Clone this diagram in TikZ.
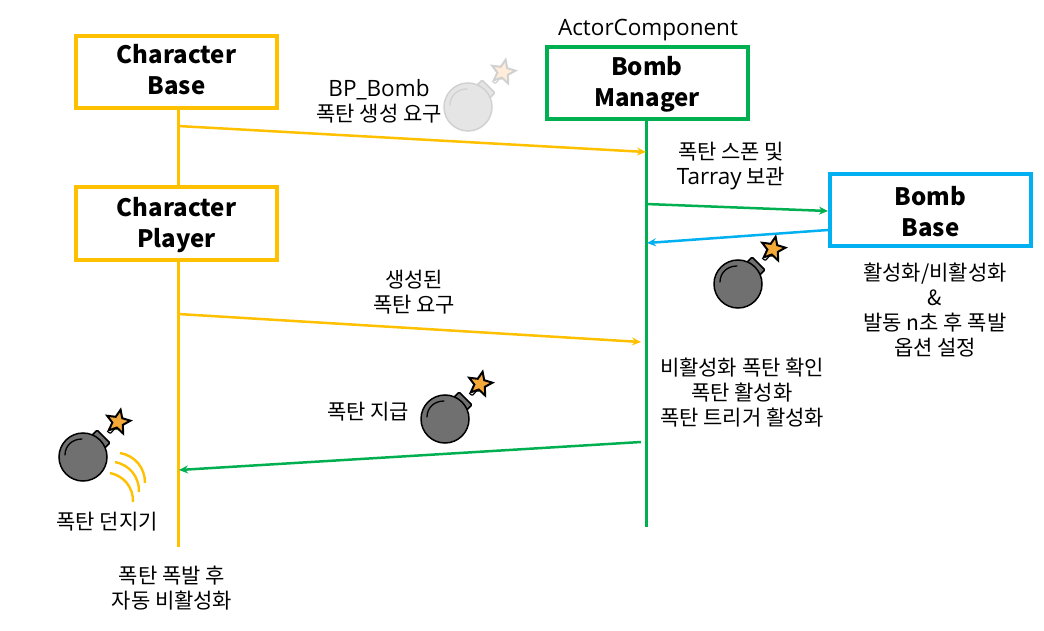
\documentclass[tikz,border=0pt]{standalone}
\usepackage{fontspec}
\setmainfont{Noto Sans CJK KR}
\newfontfamily\latinfont{Open Sans}
\usetikzlibrary{arrows.meta,positioning,shapes.geometric}
\definecolor{baseyellow}{RGB}{255,192,0}
\definecolor{managergreen}{RGB}{0,176,80}
\definecolor{bombblue}{RGB}{0,176,240}
\definecolor{bombgrey}{RGB}{112,112,112}
\definecolor{fuseorange}{RGB}{243,168,55}
\newcommand{\toppad}[1]{\rule{0pt}{#1pt}}
\newcommand{\latinword}[1]{{\fontsize{22.5}{25}\selectfont\latinfont #1}}
\tikzset{
  % class boxes
  box/.style={
    draw,
    line width=4pt,
    fill=white,
    minimum width=201pt,
    minimum height=72pt,
    align=center,
    font=\fontsize{24}{31}\selectfont\bfseries
  },
  % plain captions
  cap text/.style={align=center, inner sep=0pt, font=\fontsize{21}{25}\selectfont},
  % lifelines and messages
  life/.style={line width=3pt},
  msg/.style={-{Stealth[length=9pt,width=8pt]}, line width=2.5pt},
  % bomb drawing, its colours are set by the keys below
  bomb ink/.style={draw=black},
  bomb body/.style={fill=bombgrey},
  bomb flame/.style={fill=fuseorange},
  pale bomb/.style={
    bomb ink/.style={draw=black!18},
    bomb body/.style={fill=black!10},
    bomb flame/.style={fill=orange!15}
  },
  bomb/.pic={
    \draw[bomb ink, bomb body, line width=1.5pt, rotate=-45, rounded corners=1pt] (-9,-29) rectangle (9,-20);
    \draw[bomb ink, line width=1.2pt] (25,-25) .. controls (30,-21) and (29,-30) .. (34,-28);
    \node[star, star points=5, star point ratio=2.2, minimum size=25pt, inner sep=0pt,
      bomb ink, bomb flame, line width=2pt, rotate=-12] (-flame) at (35,-35) {};
    \draw[bomb ink, bomb body, line width=1.5pt] (0,0) circle (24);
    \draw[bomb ink, line width=1.3pt, line cap=round] (-18,-2) .. controls (-18,-11) and (-11,-18) .. (-1,-18);
  }
}

\begin{document}
\begin{tikzpicture}[x=1pt, y=-1pt]
    \useasboundingbox (0,0) rectangle (1044,631);

    % Lifeline ends
    \coordinate (baseEnd) at (178,547);
    \coordinate (managerEnd) at (646,527);

    % Boxes
    \node[box, draw=baseyellow] (charBase) at (176.5,72) {\toppad{20}Character\\Base\vphantom{y}};
    \node[box, draw=managergreen] (bombMgr) at (647,83.5) {\toppad{21}Bomb\\Manager};
    \node[box, draw=bombblue] (bombBase) at (930.5,210) {\toppad{28}Bomb\\Base\vphantom{y}};

    % Lifelines
    \draw[life, baseyellow] (charBase.south -| baseEnd) -- (baseEnd);
    \draw[life, managergreen] (bombMgr.south -| managerEnd) -- (managerEnd);
    \node[box, draw=baseyellow] (charPlayer) at (176.5,223.5) {\toppad{22}Character\\Player};

    % Message ends
    \coordinate (m1a) at (178,126);
    \coordinate (m1b) at (646,152);
    \coordinate (m2a) at (646,204);
    \coordinate (m2b) at (828,211);
    \coordinate (m3a) at (828,230);
    \coordinate (m3b) at (647,243);
    \coordinate (m4a) at (178,314);
    \coordinate (m4b) at (641,342);
    \coordinate (m5a) at (641,442);
    \coordinate (m5b) at (179,470);

    % Messages
    \draw[msg, baseyellow] (m1a) -- (m1b);
    \draw[msg, managergreen] (m2a) -- (m2b);
    \draw[msg, bombblue] (m3a) -- (m3b);
    \draw[msg, baseyellow] (m4a) -- (m4b);
    \draw[msg, managergreen] (m5a) -- (m5b);

    % Bombs
    \pic[pale bomb] (bombPale) at (468,107) {bomb};
    \pic (bombSpawn) at (738,284) {bomb};
    \pic (bombGive) at (445,419) {bomb};
    \pic (bombThrow) at (83,457) {bomb};

    % Throw marks
    \draw[line width=2.4pt, baseyellow] (120,453) to[bend left=40] (145,483);
    \draw[line width=2.4pt, baseyellow] (115,462) to[bend left=40] (139,492);
    \draw[line width=2.4pt, baseyellow] (110,473) to[bend left=40] (133,502);

    % Captions
    \node[cap text] (actorLab) at (648,30) {\latinword{ActorComponent}};
    \node[cap text] (spawnLab) at (379,101) {\latinword{BP\_Bomb}\\폭탄 생성 요구};
    \node[cap text] (keepLab) at (731,166) {폭탄 스폰 및\\\latinword{Tarray} 보관};
    \node[cap text] (optLab) at (935,310.5) {활성화/비활성화\\\&\\발동 n초 후 폭발\\옵션 설정};
    \node[cap text] (askLab) at (414,292) {생성된\\폭탄 요구};
    \node[cap text] (checkLab) at (742,392.5) {비활성화 폭탄 확인\\폭탄 활성화\\폭탄 트리거 활성화};
    \node[cap text] (giveLab) at (368,412) {폭탄 지급};
    \node[cap text] (throwLab) at (107,522) {폭탄 던지기};
    \node[cap text] (offLab) at (172,588) {폭탄 폭발 후\\자동 비활성화};
\end{tikzpicture}
\end{document}
